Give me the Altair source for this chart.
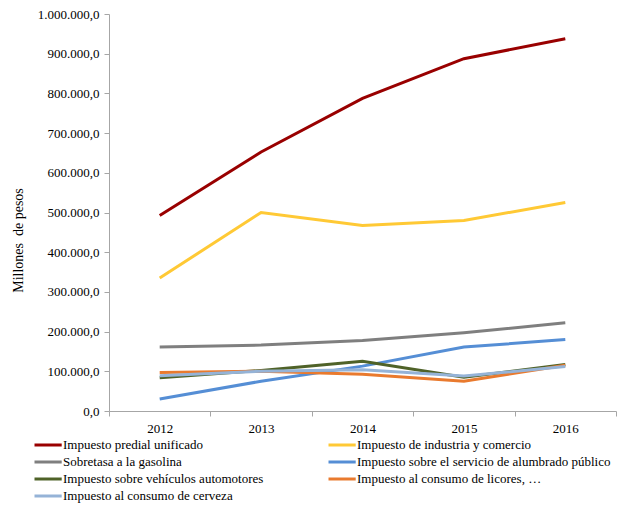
import altair as alt
import pandas as pd

years = ["2012", "2013", "2014", "2015", "2016"]
series = [
    "Impuesto predial unificado",
    "Impuesto de industria y comercio",
    "Sobretasa a la gasolina",
    "Impuesto sobre el servicio de alumbrado público",
    "Impuesto sobre vehículos automotores",
    "Impuesto al consumo de licores, …",
    "Impuesto al consumo de cerveza",
]
predial = [492500, 652500, 787500, 887500, 937500]
industria = [335000, 500000, 467500, 480000, 525000]
gasolina = [161000, 166000, 177500, 197000, 222000]
alumbrado = [30000, 75000, 113000, 161000, 180000]
vehiculos = [84000, 102000, 125000, 85000, 117000]
licores = [97000, 100000, 92500, 75000, 115000]
cerveza = [89000, 100000, 104000, 88000, 112000]
colors = ["#990000", "#FFC935", "#7F7F7F", "#558ED5", "#4F6228", "#E97A2E", "#95B3D7"]
yticks = [0, 100000, 200000, 300000, 400000, 500000, 600000, 700000, 800000, 900000, 1000000]

rows = []
for s, vals in zip(series, [predial, industria, gasolina, alumbrado, vehiculos, licores, cerveza]):
    for y, v in zip(years, vals):
        rows.append({"Año": y, "Serie": s, "Valor": v})
df = pd.DataFrame(rows)

FONT = "Liberation Serif"

label_expr = ("replace(replace(replace(format(datum.value, ',.1f'), regexp(',', 'g'), 'X'), "
              "regexp('\\\\.', 'g'), ','), regexp('X', 'g'), '.')")

chart = alt.Chart(df).mark_line(strokeWidth=3).encode(
    x=alt.X("Año:O", bandPosition=0.5,
            scale=alt.Scale(type="band", paddingInner=0, paddingOuter=0),
            axis=alt.Axis(title=None, labelAngle=0, tickBand="extent", tickSize=5,
                          labelPadding=6, grid=False)),
    y=alt.Y("Valor:Q",
            scale=alt.Scale(domain=[0, 1000000], nice=False),
            axis=alt.Axis(title="Millones\u00a0 de pesos", values=yticks, labelExpr=label_expr,
                          tickSize=5, labelPadding=5, grid=False,
                          titleAngle=270, titleX=-91, titleY=226,
                          titleAlign="center", titleBaseline="middle")),
    color=alt.Color("Serie:N", sort=series,
                    scale=alt.Scale(domain=series, range=colors),
                    legend=alt.Legend(title=None, orient="none", legendX=-76, legendY=421,
                                      columns=2, direction="horizontal",
                                      symbolType="M-1,0H2.2", symbolSize=289,
                                      symbolStrokeWidth=3, labelOffset=10,
                                      columnPadding=58, rowPadding=-0.5,
                                      labelLimit=400)),
).properties(
    width=507, height=397,
    autosize=alt.AutoSizeParams(type="none"),
    padding={"left": 101, "top": 6, "right": 2, "bottom": 93},
).configure(
    font=FONT
).configure_axis(
    labelFont=FONT, labelFontSize=13, labelColor="#000000",
    titleFont=FONT, titleFontSize=14, titleFontWeight="normal", titleColor="#000000",
    domainColor="#A6A6A6", tickColor="#A6A6A6",
).configure_legend(
    labelFont=FONT, labelFontSize=13, labelColor="#000000",
).configure_view(stroke=None)

chart.save("out.html", embed_options={"renderer": "svg", "actions": False})
